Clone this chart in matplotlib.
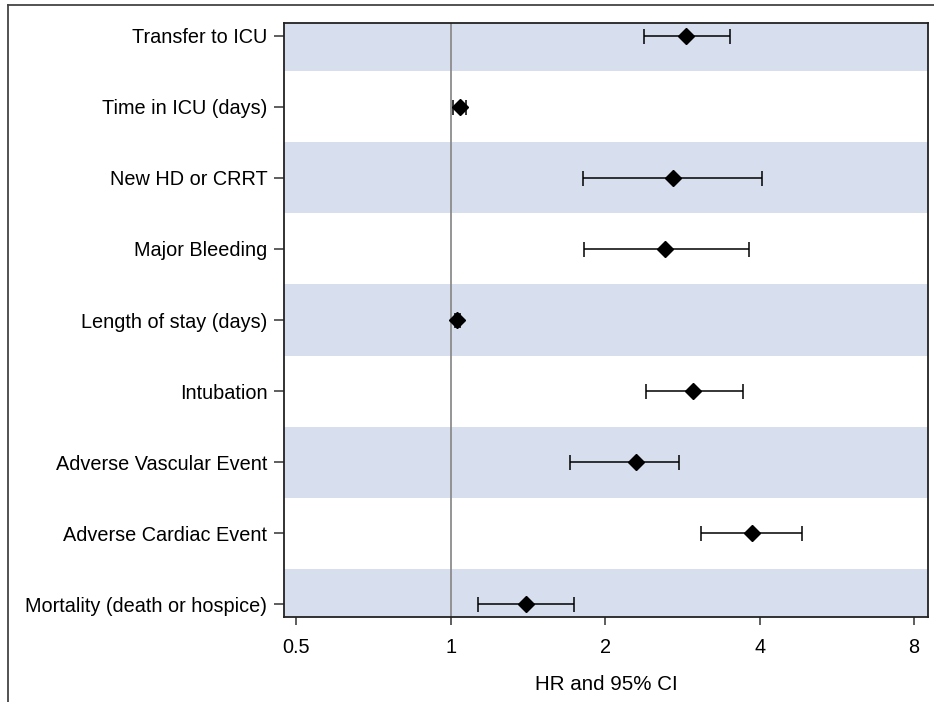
import matplotlib.pyplot as plt
import numpy as np
from matplotlib.lines import Line2D

# dane
etykiety = ["Transfer to ICU", "Time in ICU (days)", "New HD or CRRT", "Major Bleeding",
            "Length of stay (days)", "Intubation", "Adverse Vascular Event",
            "Adverse Cardiac Event", "Mortality (death or hospice)"]
hr = [2.88, 1.04, 2.71, 2.62, 1.03, 2.97, 2.30, 3.86, 1.40]
ci_dolne = [2.38, 1.01, 1.81, 1.82, 1.02, 2.40, 1.71, 3.08, 1.13]
ci_gorne = [3.51, 1.07, 4.05, 3.82, 1.04, 3.72, 2.79, 4.83, 1.74]
ticki_x = [0.5, 1, 2, 4, 8]

plt.rcParams['font.family'] = ['Liberation Sans', 'DejaVu Sans']
fig = plt.figure(figsize=(9.34, 7.02), dpi=100)
ax = fig.add_axes([284 / 934, 1 - 617 / 702, (928 - 284) / 934, (617 - 23) / 702])

n = len(etykiety)
pozycje = np.arange(n)

# pasy tla
for i in range(0, n, 2):
    ax.axhspan(i - 0.5, i + 0.5, color='#d7deed', lw=0, zorder=0)

ax.axvline(1, color='#8c8c8c', lw=1.3, zorder=1)

hr = np.array(hr)
bledy = [hr - np.array(ci_dolne), np.array(ci_gorne) - hr]
ax.errorbar(hr, pozycje, xerr=bledy, fmt='D', color='black', ms=8, capsize=5.4,
            elinewidth=1.1, capthick=1.1, zorder=3)

ax.set_xscale('log', base=2)
ax.set_xlim(0.473, 8.52)
ax.set_xticks(ticki_x)
ax.set_xticklabels(['0.5', '1', '2', '4', '8'])
ax.minorticks_off()
ax.set_ylim(n - 1 + 0.183, -0.183)
ax.set_yticks(pozycje)
ax.set_yticklabels(etykiety)
ax.tick_params(axis='both', labelsize=14.3, width=1.1, color='#333333')
ax.tick_params(axis='y', length=7, pad=5)
ax.tick_params(axis='x', length=6, pad=9)
ax.set_xlabel('HR and 95% CI', fontsize=14.8, labelpad=13)
for s in ax.spines.values():
    s.set_linewidth(1.3)
    s.set_color('#222222')

# ramka zewnetrzna
fig.add_artist(Line2D([8 / 934, 8 / 934], [0, 1 - 5 / 702], color='#444444', lw=1.3))
fig.add_artist(Line2D([8 / 934, 1], [1 - 5 / 702, 1 - 5 / 702], color='#444444', lw=1.3))

fig.savefig('out.png', dpi=100)
